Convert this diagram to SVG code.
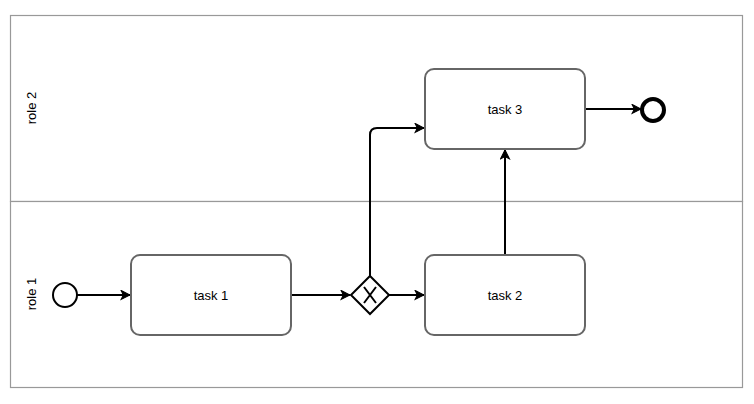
<svg xmlns="http://www.w3.org/2000/svg" width="754" height="404" viewBox="0 0 754 404">
<defs>
<marker id="arr" viewBox="0 0 10 10" refX="9" refY="5" markerWidth="11" markerHeight="11" markerUnits="userSpaceOnUse" orient="auto">
<path d="M1,1 L9,5 L1,9 L3,5 Z" fill="#000" stroke="#000" stroke-width="1"/>
</marker>
<style>
.lane{fill:#fff;stroke:#999;stroke-width:1.2}
.task{fill:#fff;stroke:#666;stroke-width:2}
.lbl{font-family:"Liberation Sans",Arial,sans-serif;font-size:13px;fill:#000;text-anchor:middle;dominant-baseline:central}
.flow{fill:none;stroke:#000;stroke-width:2;marker-end:url(#arr)}
</style>
</defs>
<rect width="754" height="404" fill="#fff"/>
<g id="pool">
<rect class="lane" x="10.5" y="15.5" width="732" height="186"/>
<rect class="lane" x="10.5" y="201.5" width="732" height="186"/>
</g>
<g id="lane-role2"><text class="lbl" transform="translate(31,108) rotate(-90)">role 2</text></g>
<g id="lane-role1"><text class="lbl" transform="translate(31,294) rotate(-90)">role 1</text></g>
<g id="connectors">
<path class="flow" d="M77,295 H130"/>
<path class="flow" d="M291,295 H350"/>
<path class="flow" d="M389,295 H424"/>
<path class="flow" d="M370,276 V135 Q370,128 377,128 H424"/>
<path class="flow" d="M505,255 V150"/>
<path class="flow" d="M585,109 H641"/>
</g>
<g id="start"><circle cx="65" cy="295" r="12" fill="#fff" stroke="#000" stroke-width="2"/></g>
<g id="task1"><rect class="task" x="131" y="255" width="160" height="80" rx="9"/><text class="lbl" x="211" y="295">task 1</text></g>
<g id="gateway"><path d="M370,276 L389,295 L370,314 L351,295 Z" fill="#fff" stroke="#000" stroke-width="2"/><path d="M364,287 L376,303 M376,287 L364,303" stroke="#000" stroke-width="2"/></g>
<g id="task2"><rect class="task" x="425" y="255" width="160" height="80" rx="9"/><text class="lbl" x="505" y="295">task 2</text></g>
<g id="task3"><rect class="task" x="425" y="69" width="160" height="80" rx="9"/><text class="lbl" x="505" y="109">task 3</text></g>
<g id="end"><circle cx="653" cy="110" r="11" fill="#fff" stroke="#000" stroke-width="4"/></g>
</svg>
